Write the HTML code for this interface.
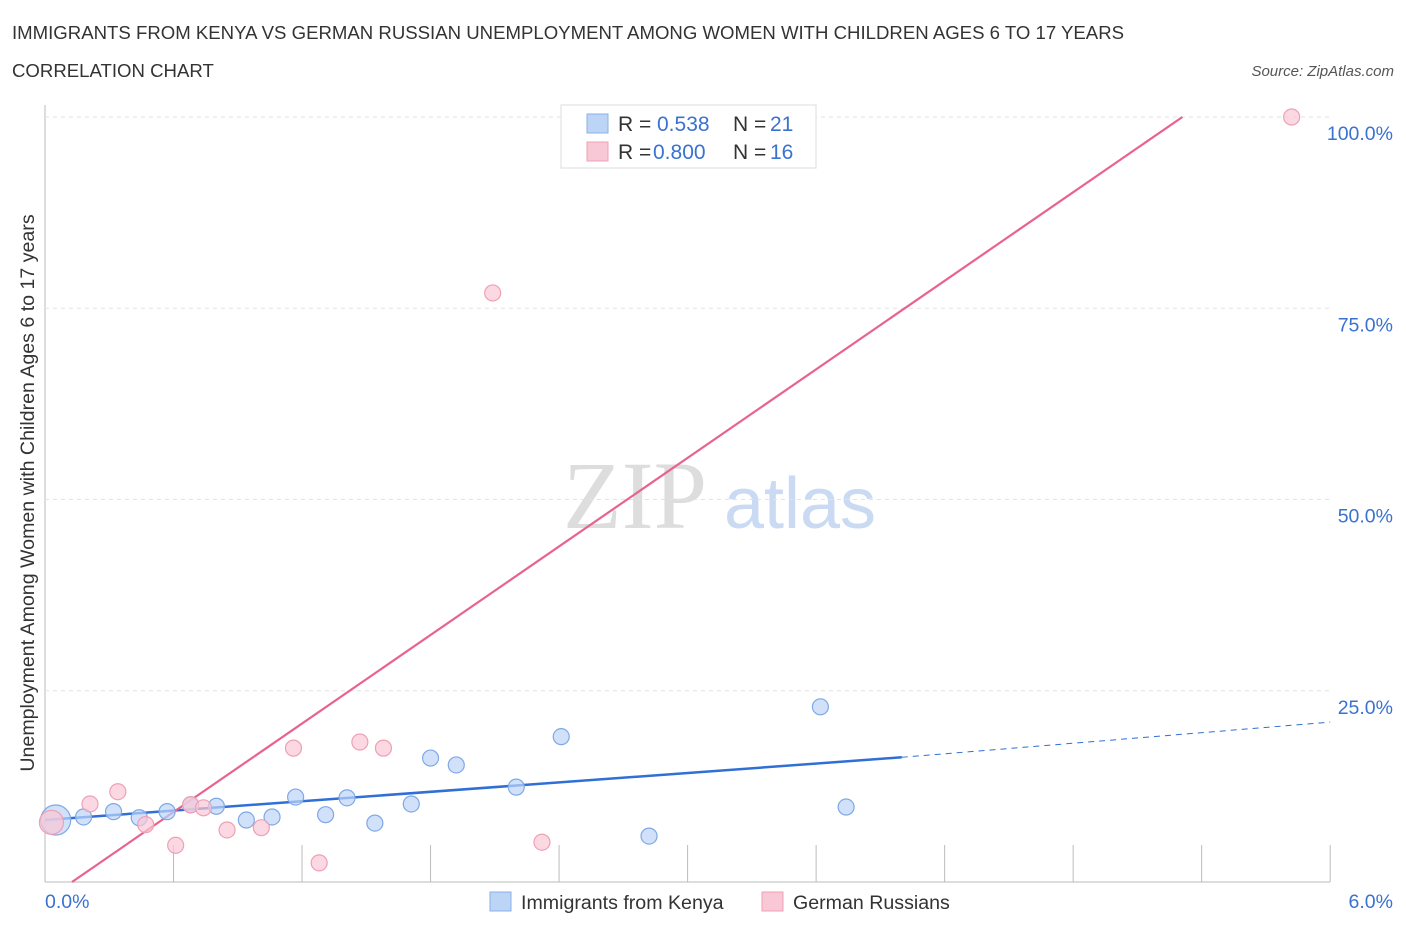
<!DOCTYPE html>
<html><head><meta charset="utf-8"><style>
body{margin:0;background:#fff;font-family:"Liberation Sans",sans-serif;}
</style></head><body>
<svg id="chart" width="1406" height="930" xmlns="http://www.w3.org/2000/svg">
<text x="12" y="39" font-size="18.6" fill="#333">IMMIGRANTS FROM KENYA VS GERMAN RUSSIAN UNEMPLOYMENT AMONG WOMEN WITH CHILDREN AGES 6 TO 17 YEARS</text>
<text x="12" y="77" font-size="18.6" fill="#333">CORRELATION CHART</text>
<text x="1394" y="76" font-size="15" fill="#555" font-style="italic" text-anchor="end">Source: ZipAtlas.com</text>
<text x="635" y="528" font-size="96" fill="#ddd" font-family="Liberation Serif,serif" text-anchor="middle">ZIP</text>
<text x="800" y="528" font-size="72" fill="#c9daf2" text-anchor="middle">atlas</text>
<text transform="translate(34,493) rotate(-90)" font-size="19.6" fill="#333" text-anchor="middle">Unemployment Among Women with Children Ages 6 to 17 years</text>
<g id="grid"></g><g id="lines"></g><g id="pts"></g>
<g>
<rect x="561" y="105" width="255" height="63" fill="#fff" stroke="#ddd"/>
<rect x="587" y="114" width="21" height="19" fill="#bcd4f6" stroke="#8ab0e8"/>
<text x="618" y="131" font-size="21" fill="#333">R = </text><text x="657" y="131" font-size="21" fill="#3a72d0">0.538</text>
<text x="733" y="131" font-size="21" fill="#333">N = </text><text x="770" y="131" font-size="21" fill="#3a72d0">21</text>
<rect x="587" y="142" width="21" height="19" fill="#f9c8d6" stroke="#eea0b6"/>
<text x="618" y="159" font-size="21" fill="#333">R = </text><text x="653" y="159" font-size="21" fill="#3a72d0">0.800</text>
<text x="733" y="159" font-size="21" fill="#333">N = </text><text x="770" y="159" font-size="21" fill="#3a72d0">16</text>
</g>
<g>
<rect x="490" y="892" width="21" height="19" fill="#bcd4f6" stroke="#8ab0e8"/>
<text x="521" y="909" font-size="19.6" fill="#333">Immigrants from Kenya</text>
<rect x="762" y="892" width="21" height="19" fill="#f9c8d6" stroke="#eea0b6"/>
<text x="793" y="909" font-size="19.6" fill="#333">German Russians</text>
</g>
</svg>
<script>
const xTicks=[0,0.6,1.2,1.8,2.4,3.0,3.6,4.2,4.8,5.4,6.0];
const yTicks=[25,50,75,100];
const yTickLabels=["25.0%","50.0%","75.0%","100.0%"];
const kenyaX=[0.05,0.18,0.32,0.44,0.57,0.68,0.80,0.94,1.06,1.17,1.31,1.41,1.54,1.71,1.80,1.92,2.20,2.41,2.82,3.62,3.74];
const kenyaY=[8.1,8.5,9.2,8.4,9.2,10.1,9.9,8.1,8.5,11.1,8.8,11.0,7.7,10.2,16.2,15.3,12.4,19.0,6.0,22.9,9.8];
const grX=[0.03,0.21,0.34,0.47,0.61,0.68,0.74,0.85,1.01,1.16,1.28,1.47,1.58,2.09,2.32,2.85,5.82];
const grY=[7.8,10.2,11.8,7.5,4.8,10.1,9.7,6.8,7.1,17.5,2.5,18.3,17.5,77.0,5.2,100,100];
const kenyaFit=[8.1,16.3,20.9]; // y at x=0, 4.0, 6.0
const grFit=[0.126,5.31]; // x at y=0, y=100
const NS="http://www.w3.org/2000/svg";
const X=v=>45+v*214.2, Y=v=>882-v*7.65;
function mk(t,a,p){const e=document.createElementNS(NS,t);for(const k in a)e.setAttribute(k,a[k]);p.appendChild(e);return e;}
const grid=document.getElementById('grid'),lines=document.getElementById('lines'),pts=document.getElementById('pts');
let ax=mk('line',{x1:45,y1:105,x2:45,y2:882,stroke:'#bbb'},grid);


let bx=mk('line',{x1:45,y1:882,x2:1330,y2:882,stroke:'#bbb'},grid);


xTicks.forEach(t=>{const l=mk('line',{x1:X(t),y1:845,x2:X(t),y2:882,stroke:'#bbb'},grid);

});
yTicks.forEach((t,i)=>{const l=mk('line',{x1:45,y1:Y(t),x2:1330,y2:Y(t),stroke:'#e2e2e2','stroke-dasharray':'4,4'},grid);


const tx=mk('text',{x:1393,y:Y(t)+23,'font-size':19.5,fill:'#3a72d0','text-anchor':'end'},grid);tx.textContent=yTickLabels[i];

});
const x0=mk('text',{x:45,y:908,'font-size':19.5,fill:'#3a72d0'},grid);x0.textContent="0.0%";


const x1=mk('text',{x:1393,y:908,'font-size':19.5,fill:'#3a72d0','text-anchor':'end'},grid);x1.textContent="6.0%";


function dot(x,y,r,f,s,name){const c=mk('circle',{cx:X(x),cy:Y(y),r:r,fill:f,stroke:s,'stroke-width':1.2,'fill-opacity':0.7},pts);

}
kenyaX.forEach((x,i)=>dot(x,kenyaY[i],i==0?15:8,'#bcd4f6','#7fa8e6','kenya-point'));
grX.forEach((x,i)=>dot(x,grY[i],i==0?12:8,'#f9c8d6','#eea0b6','german-russian-point'));
let l1=mk('line',{x1:X(0),y1:Y(kenyaFit[0]),x2:X(4.0),y2:Y(kenyaFit[1]),stroke:'#2f6fd6','stroke-width':2.5},lines);


let l2=mk('line',{x1:X(4.0),y1:Y(kenyaFit[1]),x2:X(6.0),y2:Y(kenyaFit[2]),stroke:'#2f6fd6','stroke-width':1,'stroke-dasharray':'6,5'},lines);


let l3=mk('line',{x1:X(grFit[0]),y1:Y(0),x2:X(grFit[1]),y2:Y(100),stroke:'#e8638e','stroke-width':2.2},lines);


</script>
</body></html>
